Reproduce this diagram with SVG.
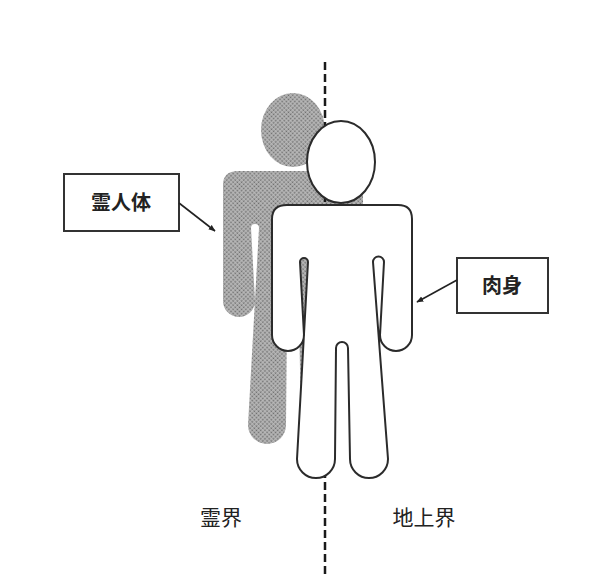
<svg xmlns="http://www.w3.org/2000/svg" width="609" height="578" viewBox="0 0 609 578">
  <style>
    .outline { fill: #fff; stroke: #2b2b2b; stroke-width: 2; stroke-linejoin: round; }
    .ghost { fill: url(#stipple); }
    .box { fill: #fff; stroke: #333; stroke-width: 2; }
    .lbl { font-family: "Noto Sans CJK JP", sans-serif; font-size: 20px; font-weight: 700; fill: #222; text-anchor: middle; }
    .realm { font-family: "Noto Sans CJK JP", sans-serif; font-size: 21px; font-weight: 400; fill: #222; text-anchor: middle; }
    .conn { stroke: #222; stroke-width: 1.6; fill: none; marker-end: url(#arrow); }
    .divider { stroke: #1a1a1a; stroke-width: 2.5; stroke-dasharray: 8 4; fill: none; }
  </style>
  <defs>
    <pattern id="stipple" width="3" height="3" patternUnits="userSpaceOnUse" patternTransform="rotate(45)">
      <rect width="3" height="3" fill="#bdbdbd"/>
      <rect x="0.5" y="0.5" width="1.7" height="1.7" fill="#6c6c6c"/>
    </pattern>
    <marker id="arrow" viewBox="0 0 10 10" refX="9" refY="5" markerWidth="7" markerHeight="7" orient="auto" markerUnits="userSpaceOnUse">
      <path d="M0,1 L10,5 L0,9 Z" fill="#222"/>
    </marker>
    <!-- keeps the offset copy's far leg out of the gap between the front legs -->
    <clipPath id="ghost-clip">
      <polygon points="0,0 609,0 609,340 334,340 334,578 0,578"/>
    </clipPath>
    <!-- standing figure silhouette: torso, arms, legs -->
    <path id="figure" d="M287 205 H398 Q412 205 412 219 V335 A16 16 0 0 1 380 335 L384 262 A5.5 5.5 0 0 0 373 262 L388 459 A19 19 0 0 1 350 459 L348 348 A6 6 0 0 0 336 348 L335 459 A19 19 0 0 1 297 459 L308 262 A4 4 0 0 0 300 262 L304 335 A16 16 0 0 1 272 335 V219 Q272 205 287 205 Z"/>
  </defs>

  <rect width="609" height="578" fill="#fff"/>

  <!-- spirit body (stippled, offset behind) -->
  <g id="spirit-body" class="ghost" clip-path="url(#ghost-clip)">
    <ellipse cx="293" cy="130" rx="32" ry="37"/>
    <use href="#figure" transform="translate(-49 -34)"/>
  </g>

  <!-- boundary between the two realms -->
  <g id="divider">
    <line class="divider" x1="325" y1="62" x2="325" y2="578"/>
  </g>

  <!-- physical body -->
  <g id="physical-body">
    <use href="#figure" class="outline"/>
    <ellipse class="outline" cx="341" cy="162" rx="34" ry="41"/>
  </g>

  <g id="label-spirit">
    <rect class="box" x="64" y="174" width="115" height="57"/>
    <text class="lbl" x="121" y="210">霊人体</text>
  </g>

  <g id="label-flesh">
    <rect class="box" x="457" y="258" width="91" height="55"/>
    <text class="lbl" x="502" y="293">肉身</text>
  </g>

  <g id="connectors">
    <line class="conn" x1="179" y1="203" x2="215" y2="231"/>
    <line class="conn" x1="457" y1="280" x2="417" y2="302"/>
  </g>

  <g id="realm-labels">
    <text class="realm" x="221" y="525">霊界</text>
    <text class="realm" x="424" y="525">地上界</text>
  </g>
</svg>
